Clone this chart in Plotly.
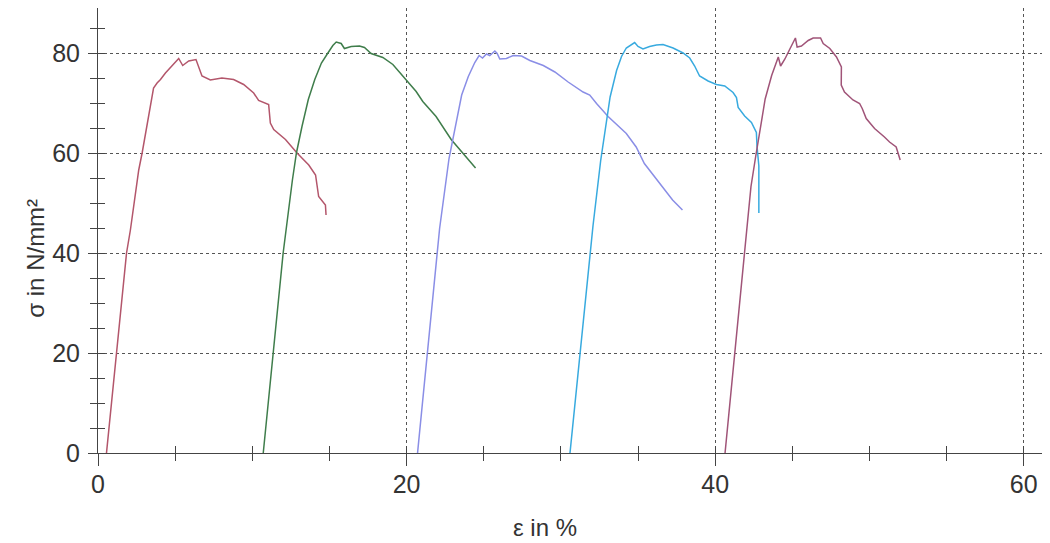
import plotly.graph_objects as go

# Stress-strain curves (ε in %, σ in N/mm²)
s1_x = [0.55, 1.2, 1.85, 2.1, 2.64, 2.86, 3.18, 3.6, 3.83, 4.05, 4.37, 4.58, 4.9, 5.23, 5.49, 5.88, 6.35, 6.48, 6.74, 7.28, 8.03, 8.79, 9.44, 10.09, 10.41, 11.06, 11.17, 11.39, 12.15, 12.9, 13.66, 14.1, 14.3, 14.74, 14.78]
s1_y = [0, 20, 40, 44.6, 56.6, 60, 66, 73, 74, 74.7, 76, 76.7, 77.7, 78.9, 77.5, 78.4, 78.7, 77.7, 75.4, 74.6, 75, 74.7, 73.7, 72, 70.5, 69.7, 66, 64.7, 62.7, 60, 57.6, 55.6, 51.3, 49.6, 47.6]

s2_x = [10.71, 11.35, 12.0, 12.6, 12.86, 13.22, 13.63, 14.05, 14.48, 14.9, 15.22, 15.44, 15.76, 15.97, 16.41, 16.95, 17.27, 17.7, 18.46, 19.11, 19.86, 20.62, 21.05, 21.91, 22.89, 23.65, 24.47]
s2_y = [0, 20, 40, 54.6, 60, 65.3, 70.7, 74.7, 78, 80, 81.5, 82.2, 81.9, 80.9, 81.3, 81.4, 81.1, 79.9, 79.1, 77.7, 75, 72.3, 70.3, 67.3, 62.7, 60, 57]

s3_x = [20.71, 21.35, 21.98, 22.14, 22.75, 23.16, 23.57, 24.0, 24.42, 24.7, 24.92, 25.18, 25.39, 25.72, 25.87, 26.04, 26.47, 26.91, 27.45, 27.99, 28.86, 29.61, 30.47, 31.44, 31.87, 32.31, 33.06, 34.24, 34.88, 35.41, 36.38, 37.24, 37.88]
s3_y = [0, 20, 40, 44.9, 58.9, 65.6, 71.6, 75.3, 78.1, 79.5, 79, 79.8, 79.5, 80.4, 79.9, 78.8, 78.9, 79.5, 79.4, 78.5, 77.5, 76.2, 74.2, 72.2, 71.6, 69.9, 67.3, 63.9, 61.2, 57.9, 53.9, 50.6, 48.6]

s4_x = [30.59, 31.25, 31.9, 32.08, 32.58, 32.89, 33.19, 33.61, 33.93, 34.24, 34.5, 34.78, 35.0, 35.32, 35.75, 36.19, 36.62, 37.27, 37.92, 38.35, 38.67, 38.99, 39.54, 40.08, 40.62, 41.16, 41.38, 41.49, 41.91, 42.35, 42.67, 42.71, 42.83, 42.83]
s4_y = [0, 20, 40, 45.4, 58.5, 65.2, 71.2, 76.5, 79.3, 81, 81.6, 82.1, 81.3, 80.8, 81.3, 81.6, 81.7, 81, 80, 79, 77.4, 75.4, 74.4, 73.7, 73.4, 72.1, 71.1, 69.1, 67.4, 66.1, 64.1, 61.4, 57.4, 48.0]

s5_x = [40.64, 41.28, 41.92, 42.09, 42.32, 42.63, 42.94, 43.24, 43.66, 44.09, 44.24, 44.52, 44.84, 45.2, 45.31, 45.59, 46.03, 46.35, 46.83, 47.0, 47.43, 47.86, 48.18, 48.17, 48.38, 48.93, 49.36, 49.53, 49.79, 50.33, 50.97, 51.3, 51.73, 51.99]
s5_y = [0, 20, 40, 45.6, 53.3, 59.4, 65.4, 70.8, 75.5, 79.2, 77.4, 78.8, 80.8, 83, 81.2, 81.4, 82.5, 83, 83, 81.9, 80.9, 79.2, 77.2, 73.6, 72.2, 70.6, 69.9, 68.9, 66.9, 64.9, 63.2, 62.2, 61.2, 58.6]

series = [
    (s1_x, s1_y, "#b3566b"),
    (s2_x, s2_y, "#3f7d4b"),
    (s3_x, s3_y, "#8a8ee6"),
    (s4_x, s4_y, "#38aadf"),
    (s5_x, s5_y, "#a05478"),
]

x_range = [0, 61.7]
y_range = [0, 89.0]
axis_col = "#444444"
font_fam = "Liberation Sans, Arial, sans-serif"

fig = go.Figure()
for xs, ys, col in series:
    fig.add_trace(go.Scatter(x=xs, y=ys, mode="lines",
                             line=dict(color=col, width=1.5),
                             showlegend=False, hoverinfo="skip"))
# empty trace to host the inside-tick overlay axes
fig.add_trace(go.Scatter(x=[], y=[], xaxis="x2", yaxis="y2", showlegend=False))

fig.update_layout(
    width=1042, height=535,
    margin=dict(l=90, r=0, t=0, b=90, autoexpand=False),
    paper_bgcolor="white", plot_bgcolor="white",
    font=dict(family=font_fam, size=24, color="#333333"),
    xaxis=dict(range=x_range, tick0=0, dtick=20, ticks="outside", ticklen=12,
               tickcolor=axis_col, showline=True, linecolor=axis_col, linewidth=1,
               showgrid=True, gridcolor="#555555", griddash="dot", gridwidth=1.2,
               zeroline=False, ticklabelstandoff=-3, automargin=False,
               minor=dict(dtick=5, tick0=0, ticks="outside", ticklen=7, tickcolor=axis_col, showgrid=False),
               tickfont=dict(size=25, color="#333333")),
    yaxis=dict(range=y_range, tick0=0, dtick=20, ticks="outside", ticklen=9,
               tickcolor=axis_col, showline=True, linecolor=axis_col, linewidth=1,
               showgrid=True, gridcolor="#555555", griddash="dot", gridwidth=1.2,
               zeroline=False, ticklabelstandoff=3, automargin=False,
               minor=dict(dtick=5, tick0=0, ticks="outside", ticklen=7, tickcolor=axis_col, showgrid=False),
               tickfont=dict(size=25, color="#333333")),
    xaxis2=dict(range=x_range, overlaying="x", anchor="y", side="bottom",
                tick0=0, dtick=5, ticks="inside", ticklen=7, tickcolor=axis_col,
                showticklabels=False, showgrid=False, zeroline=False, showline=False),
    yaxis2=dict(range=y_range, overlaying="y", anchor="x", side="left",
                tick0=0, dtick=5, ticks="inside", ticklen=7, tickcolor=axis_col,
                showticklabels=False, showgrid=False, zeroline=False, showline=False),
    annotations=[
        dict(text="ε in %", xref="paper", yref="paper", x=0.47, y=-0.168,
             xanchor="center", yanchor="middle", showarrow=False,
             font=dict(size=24, color="#333333")),
        dict(text="σ in N/mm²", xref="paper", yref="paper", x=-0.066, y=0.437,
             xanchor="center", yanchor="middle", showarrow=False, textangle=-90,
             font=dict(size=24, color="#333333")),
    ],
)

fig.write_html("out.html")
